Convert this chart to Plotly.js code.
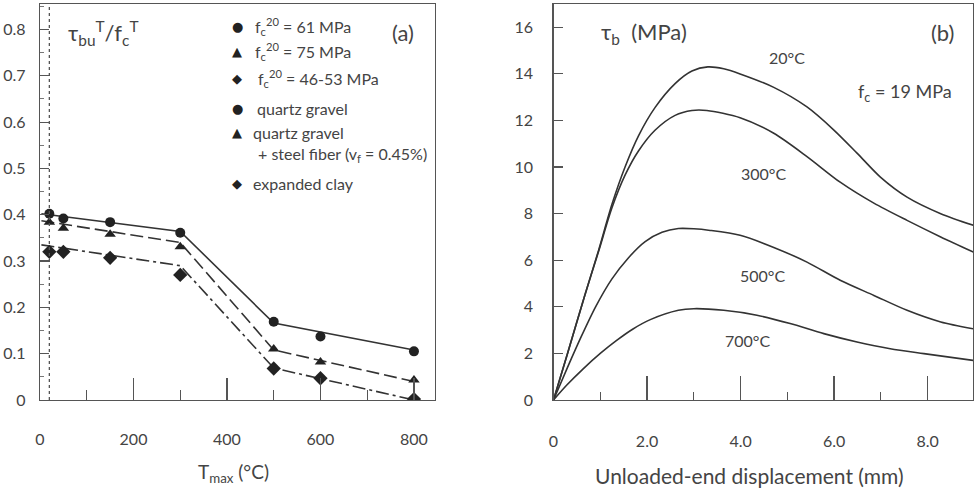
<!DOCTYPE html>
<html>
<head>
<meta charset="utf-8">
<script src="https://cdn.plot.ly/plotly-3.0.1.min.js"></script>
<style>html,body{margin:0;padding:0;background:#fff;}#chart{width:974px;height:490px;}</style>
</head>
<body>
<div id="chart"></div>
<script>
// ---------- Panel (a) data ----------
const tempMax = [20, 50, 150, 300, 500, 600, 800];
const ratioQuartz = [0.402, 0.392, 0.384, 0.361, 0.169, 0.137, 0.105];
const ratioFiber = [0.384, 0.371, 0.358, 0.331, 0.110, 0.082, 0.043];
const ratioClay = [0.320, 0.320, 0.307, 0.270, 0.068, 0.047, 0.002];
const fitTemp = [3, 300, 500, 800];
const fitQuartz = [0.402, 0.364, 0.166, 0.108];
const fitFiber = [0.387, 0.340, 0.108, 0.040];
const fitClay = [0.335, 0.290, 0.069, 0.000];
const roomTemp = 20;
const xTicksA = [0, 200, 400, 600, 800];
const yTicksA = [0, 0.1, 0.2, 0.3, 0.4, 0.5, 0.6, 0.7, 0.8];

// ---------- Panel (b) data ----------
const disp20 = [0, 0.3, 0.67, 0.96, 1.25, 1.53, 1.82, 2.17, 2.6, 2.96, 3.3, 3.64, 3.99, 4.71, 5.42, 5.99, 6.49, 6.99, 7.56, 8.28, 8.98];
const tau20 = [0, 2.0, 4.5, 6.4, 8.4, 10.0, 11.35, 12.55, 13.58, 14.12, 14.3, 14.22, 14.0, 13.42, 12.58, 11.6, 10.6, 9.57, 8.71, 8.0, 7.5];
const disp300 = [0, 0.3, 0.67, 0.96, 1.25, 1.53, 1.82, 2.17, 2.6, 2.96, 3.28, 3.99, 4.71, 5.42, 6.13, 6.85, 7.56, 8.28, 8.98];
const tau300 = [0, 2.0, 4.5, 6.35, 8.25, 9.65, 10.7, 11.58, 12.22, 12.43, 12.43, 12.12, 11.45, 10.45, 9.35, 8.45, 7.71, 7.0, 6.35];
const disp500 = [0, 0.3, 0.6, 0.9, 1.25, 1.6, 1.96, 2.32, 2.67, 3.0, 3.35, 3.99, 4.71, 5.42, 6.13, 6.85, 7.56, 8.28, 8.97];
const tau500 = [0, 1.4, 2.75, 4.0, 5.2, 6.1, 6.8, 7.2, 7.36, 7.35, 7.28, 7.07, 6.55, 5.92, 5.14, 4.49, 3.85, 3.35, 3.06];
const disp700 = [0, 0.28, 0.64, 1.0, 1.35, 1.7, 2.07, 2.67, 3.0, 3.64, 4.35, 5.06, 5.78, 6.49, 7.2, 7.92, 8.97];
const tau700 = [0, 0.63, 1.35, 2.0, 2.56, 3.05, 3.45, 3.85, 3.92, 3.85, 3.64, 3.28, 2.85, 2.49, 2.2, 1.99, 1.7];
const xTicksB = [0, 2, 4, 6, 8];
const xTickTextB = ['0', '2.0', '4.0', '6.0', '8.0'];

const ink = '#333';
const txt = '#444';
const fontFam = 'Lato, "Open Sans", sans-serif';

const traces = [
  {x: fitTemp, y: fitQuartz, mode: 'lines', line: {color: ink, width: 1.6}, xaxis: 'x', yaxis: 'y'},
  {x: fitTemp, y: fitFiber, mode: 'lines', line: {color: ink, width: 1.6, dash: '13px,5px'}, xaxis: 'x', yaxis: 'y'},
  {x: fitTemp, y: fitClay, mode: 'lines', line: {color: ink, width: 1.6, dash: '13px,4px,3px,4px'}, xaxis: 'x', yaxis: 'y'},
  {x: tempMax, y: ratioQuartz, mode: 'markers', marker: {symbol: 'circle', size: 10, color: '#222'}, xaxis: 'x', yaxis: 'y'},
  {x: tempMax, y: ratioFiber, mode: 'markers', marker: {symbol: 'triangle-up', size: 10, color: '#222'}, xaxis: 'x', yaxis: 'y'},
  {x: tempMax, y: ratioClay, mode: 'markers', marker: {symbol: 'diamond', size: 11, color: '#222'}, xaxis: 'x', yaxis: 'y'},
  {x: disp20, y: tau20, mode: 'lines', line: {color: ink, width: 1.6, shape: 'spline', smoothing: 0.8}, xaxis: 'x2', yaxis: 'y2'},
  {x: disp300, y: tau300, mode: 'lines', line: {color: ink, width: 1.6, shape: 'spline', smoothing: 0.8}, xaxis: 'x2', yaxis: 'y2'},
  {x: disp500, y: tau500, mode: 'lines', line: {color: ink, width: 1.6, shape: 'spline', smoothing: 0.8}, xaxis: 'x2', yaxis: 'y2'},
  {x: disp700, y: tau700, mode: 'lines', line: {color: ink, width: 1.6, shape: 'spline', smoothing: 0.8}, xaxis: 'x2', yaxis: 'y2'}
];

const axFont = {family: fontFam, size: 16, color: txt};
const px = (v) => v / 974;
const py = (v) => (400 - v) / 396;

const ann = [];
function addText(text, x, y, size, anchor, family) {
  ann.push({text: text, xref: 'paper', yref: 'paper', x: px(x), y: py(y), xanchor: anchor || 'left', yanchor: 'middle',
    showarrow: false, font: {family: family || fontFam, size: size, color: anchor === 'sym' ? '#222' : txt}});
  if (anchor === 'sym') ann[ann.length - 1].xanchor = 'center';
}
const symFam = '"DejaVu Sans", sans-serif';
addText('τ<sub>bu</sub><sup>T</sup>/f<sub>c</sub><sup>T</sup>', 66, 33, 22);
addText('(a)', 403, 33, 22, 'center');
addText('●', 237, 27, 13, 'sym', symFam);
addText('f<sub>c</sub><sup>20</sup> = 61 MPa', 253, 27, 16);
addText('▲', 237, 51, 13, 'sym', symFam);
addText('f<sub>c</sub><sup>20</sup> = 75 MPa', 253, 51, 16);
addText('◆', 237, 78, 13, 'sym', symFam);
addText('f<sub>c</sub><sup>20</sup> = 46-53 MPa', 256, 78, 16);
addText('●', 237, 108, 13, 'sym', symFam);
addText('quartz gravel', 255, 108, 16);
addText('▲', 237, 132, 13, 'sym', symFam);
addText('quartz gravel', 251, 132, 16);
addText('+ steel fiber (v<sub>f</sub> = 0.45%)', 256, 155, 16);
addText('◆', 237, 183, 13, 'sym', symFam);
addText('expanded clay', 251, 183, 16);
addText('T<sub>max</sub> (°C)', 233, 473, 19, 'center');

addText('τ<sub>b</sub>  (MPa)', 599, 33, 22);
addText('(b)', 942, 33, 22, 'center');
addText('20°C', 787, 57, 16, 'center');
addText('300°C', 763, 173, 16, 'center');
addText('500°C', 762, 275, 16, 'center');
addText('700°C', 747, 340, 16, 'center');
addText('f<sub>c</sub> = 19 MPa', 905, 93, 18, 'center');
addText('Unloaded-end displacement (mm)', 749, 476, 21, 'center');

const layout = {
  width: 974, height: 490,
  margin: {l: 0, r: 0, t: 4, b: 90},
  paper_bgcolor: '#fff', plot_bgcolor: '#fff',
  showlegend: false,
  font: {family: fontFam, color: txt},
  xaxis: {
    domain: [px(40), px(435)], range: [0, 845], anchor: 'y',
    tickmode: 'array', tickvals: xTicksA, ticks: 'inside', ticklen: 22, tickwidth: 1.2, tickcolor: '#555',
    minor: {dtick: 100, tick0: 0, ticks: 'inside', ticklen: 10, tickwidth: 1.2, tickcolor: '#555'},
    showline: true, linecolor: '#555', linewidth: 1.3, mirror: true,
    showgrid: false, zeroline: false, tickfont: axFont, ticklabelstandoff: 24
  },
  yaxis: {
    domain: [0, 1], range: [0, 0.855], anchor: 'x',
    tickmode: 'array', tickvals: yTicksA, ticks: 'inside', ticklen: 9, tickwidth: 1.2, tickcolor: '#555',
    minor: {dtick: 0.05, tick0: 0, ticks: 'inside', ticklen: 4, tickwidth: 1, tickcolor: '#777'},
    showline: true, linecolor: '#555', linewidth: 1.3, mirror: true,
    showgrid: false, zeroline: false, tickfont: axFont, ticklabelstandoff: 10
  },
  xaxis2: {
    domain: [px(553.5), px(973)], range: [0, 8.97], anchor: 'y2',
    tickmode: 'array', tickvals: xTicksB, ticktext: xTickTextB, ticks: 'inside', ticklen: 24, tickwidth: 1.2, tickcolor: '#555',
    minor: {dtick: 1, tick0: 0, ticks: 'inside', ticklen: 8, tickwidth: 1.2, tickcolor: '#555'},
    showline: true, linecolor: '#555', linewidth: 1.3, mirror: true,
    showgrid: false, zeroline: false, tickfont: axFont, ticklabelstandoff: 26
  },
  yaxis2: {
    domain: [0, 1], range: [0, 17], anchor: 'x2',
    dtick: 2, tick0: 0, ticks: 'inside', ticklen: 9, tickwidth: 1.2, tickcolor: '#555',
    showline: true, linecolor: '#555', linewidth: 1.3, mirror: true,
    showgrid: false, zeroline: false, tickfont: axFont, ticklabelstandoff: 16
  },
  yaxis3: {
    overlaying: 'y2', anchor: 'x2', range: [0, 17], dtick: 4, tick0: 0,
    ticks: 'inside', ticklen: 23, tickwidth: 1.2, tickcolor: '#555',
    showticklabels: false, showline: false, showgrid: false, zeroline: false
  },
  shapes: [
    {type: 'line', xref: 'x', yref: 'paper', x0: roomTemp, x1: roomTemp, y0: 0, y1: 1,
     line: {color: '#555', width: 1.3, dash: 'dot'}}
  ],
  annotations: ann
};

Plotly.newPlot('chart', traces, layout, {staticPlot: true, displayModeBar: false});
</script>
</body>
</html>
